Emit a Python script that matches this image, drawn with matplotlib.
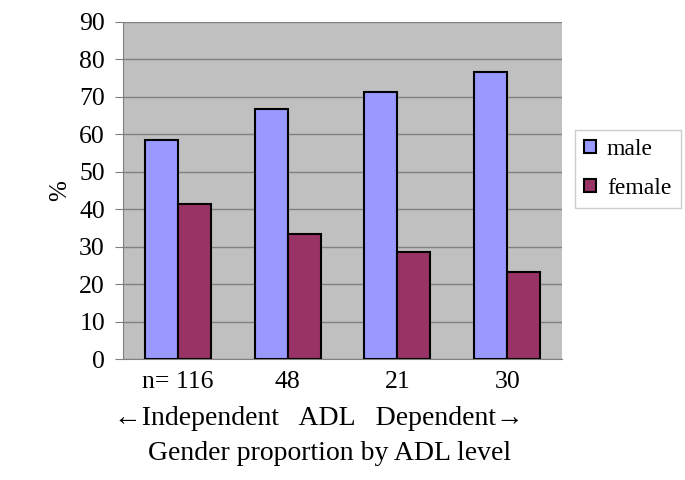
import numpy as np
import matplotlib
matplotlib.use("Agg")
import matplotlib.pyplot as plt

plt.rcParams['font.family'] = ['Liberation Serif', 'DejaVu Serif']

groups = ["n= 116", "48", "21", "30"]
male = [58.6, 66.7, 71.4, 76.7]
female = [41.4, 33.3, 28.6, 23.3]

fig = plt.figure(figsize=(6.85, 4.8), dpi=100)
ax = fig.add_axes([123/685, 1 - 359/480, (562-123)/685, (359-22)/480])
ax.set_facecolor("#C0C0C0")

x = np.arange(len(groups))
w = 0.3
ax.bar(x - w/2, male, w, color="#9999FF", edgecolor="black", linewidth=1.5, label="male", zorder=3)
ax.bar(x + w/2, female, w, color="#993366", edgecolor="black", linewidth=1.5, label="female", zorder=3)

ax.set_xlim(-0.5, len(groups) - 0.5)
ax.set_ylim(0, 90)
ax.set_yticks(range(0, 91, 10))
ax.yaxis.grid(True, color="#808080", linewidth=1, zorder=0)
for s in ["top", "right"]:
    ax.spines[s].set_visible(False)
ax.spines["left"].set_color("#808080")
ax.spines["bottom"].set_color("#808080")
ax.tick_params(axis="y", length=6, color="#808080", labelsize=18.5, pad=7)
ax.tick_params(axis="x", length=0, labelsize=18.5, pad=9)
ax.set_xticks(x)
ax.set_xticklabels(groups)
ax.get_xticklabels()[0].set_x(-0.13)

ax.set_ylabel("%", fontsize=18, labelpad=6)

fig.text(319/685, 1 - 425/480, "\u2190Independent   ADL   Dependent\u2192", ha="center", va="baseline", fontsize=20)
fig.text(330/685, 1 - 460/480, "Gender proportion by ADL level", ha="center", va="baseline", fontsize=20)

leg = ax.legend(loc="center left", bbox_to_anchor=(575/685, 1 - 169/480), bbox_transform=fig.transFigure,
                fontsize=17, frameon=True, fancybox=False, edgecolor="#C0C0C0", borderaxespad=0,
                handlelength=0.5, handleheight=0.5, handletextpad=0.45, labelspacing=0.75, borderpad=0.4)
leg.get_frame().set_linewidth(1)

fig.savefig("out.png", dpi=100)
